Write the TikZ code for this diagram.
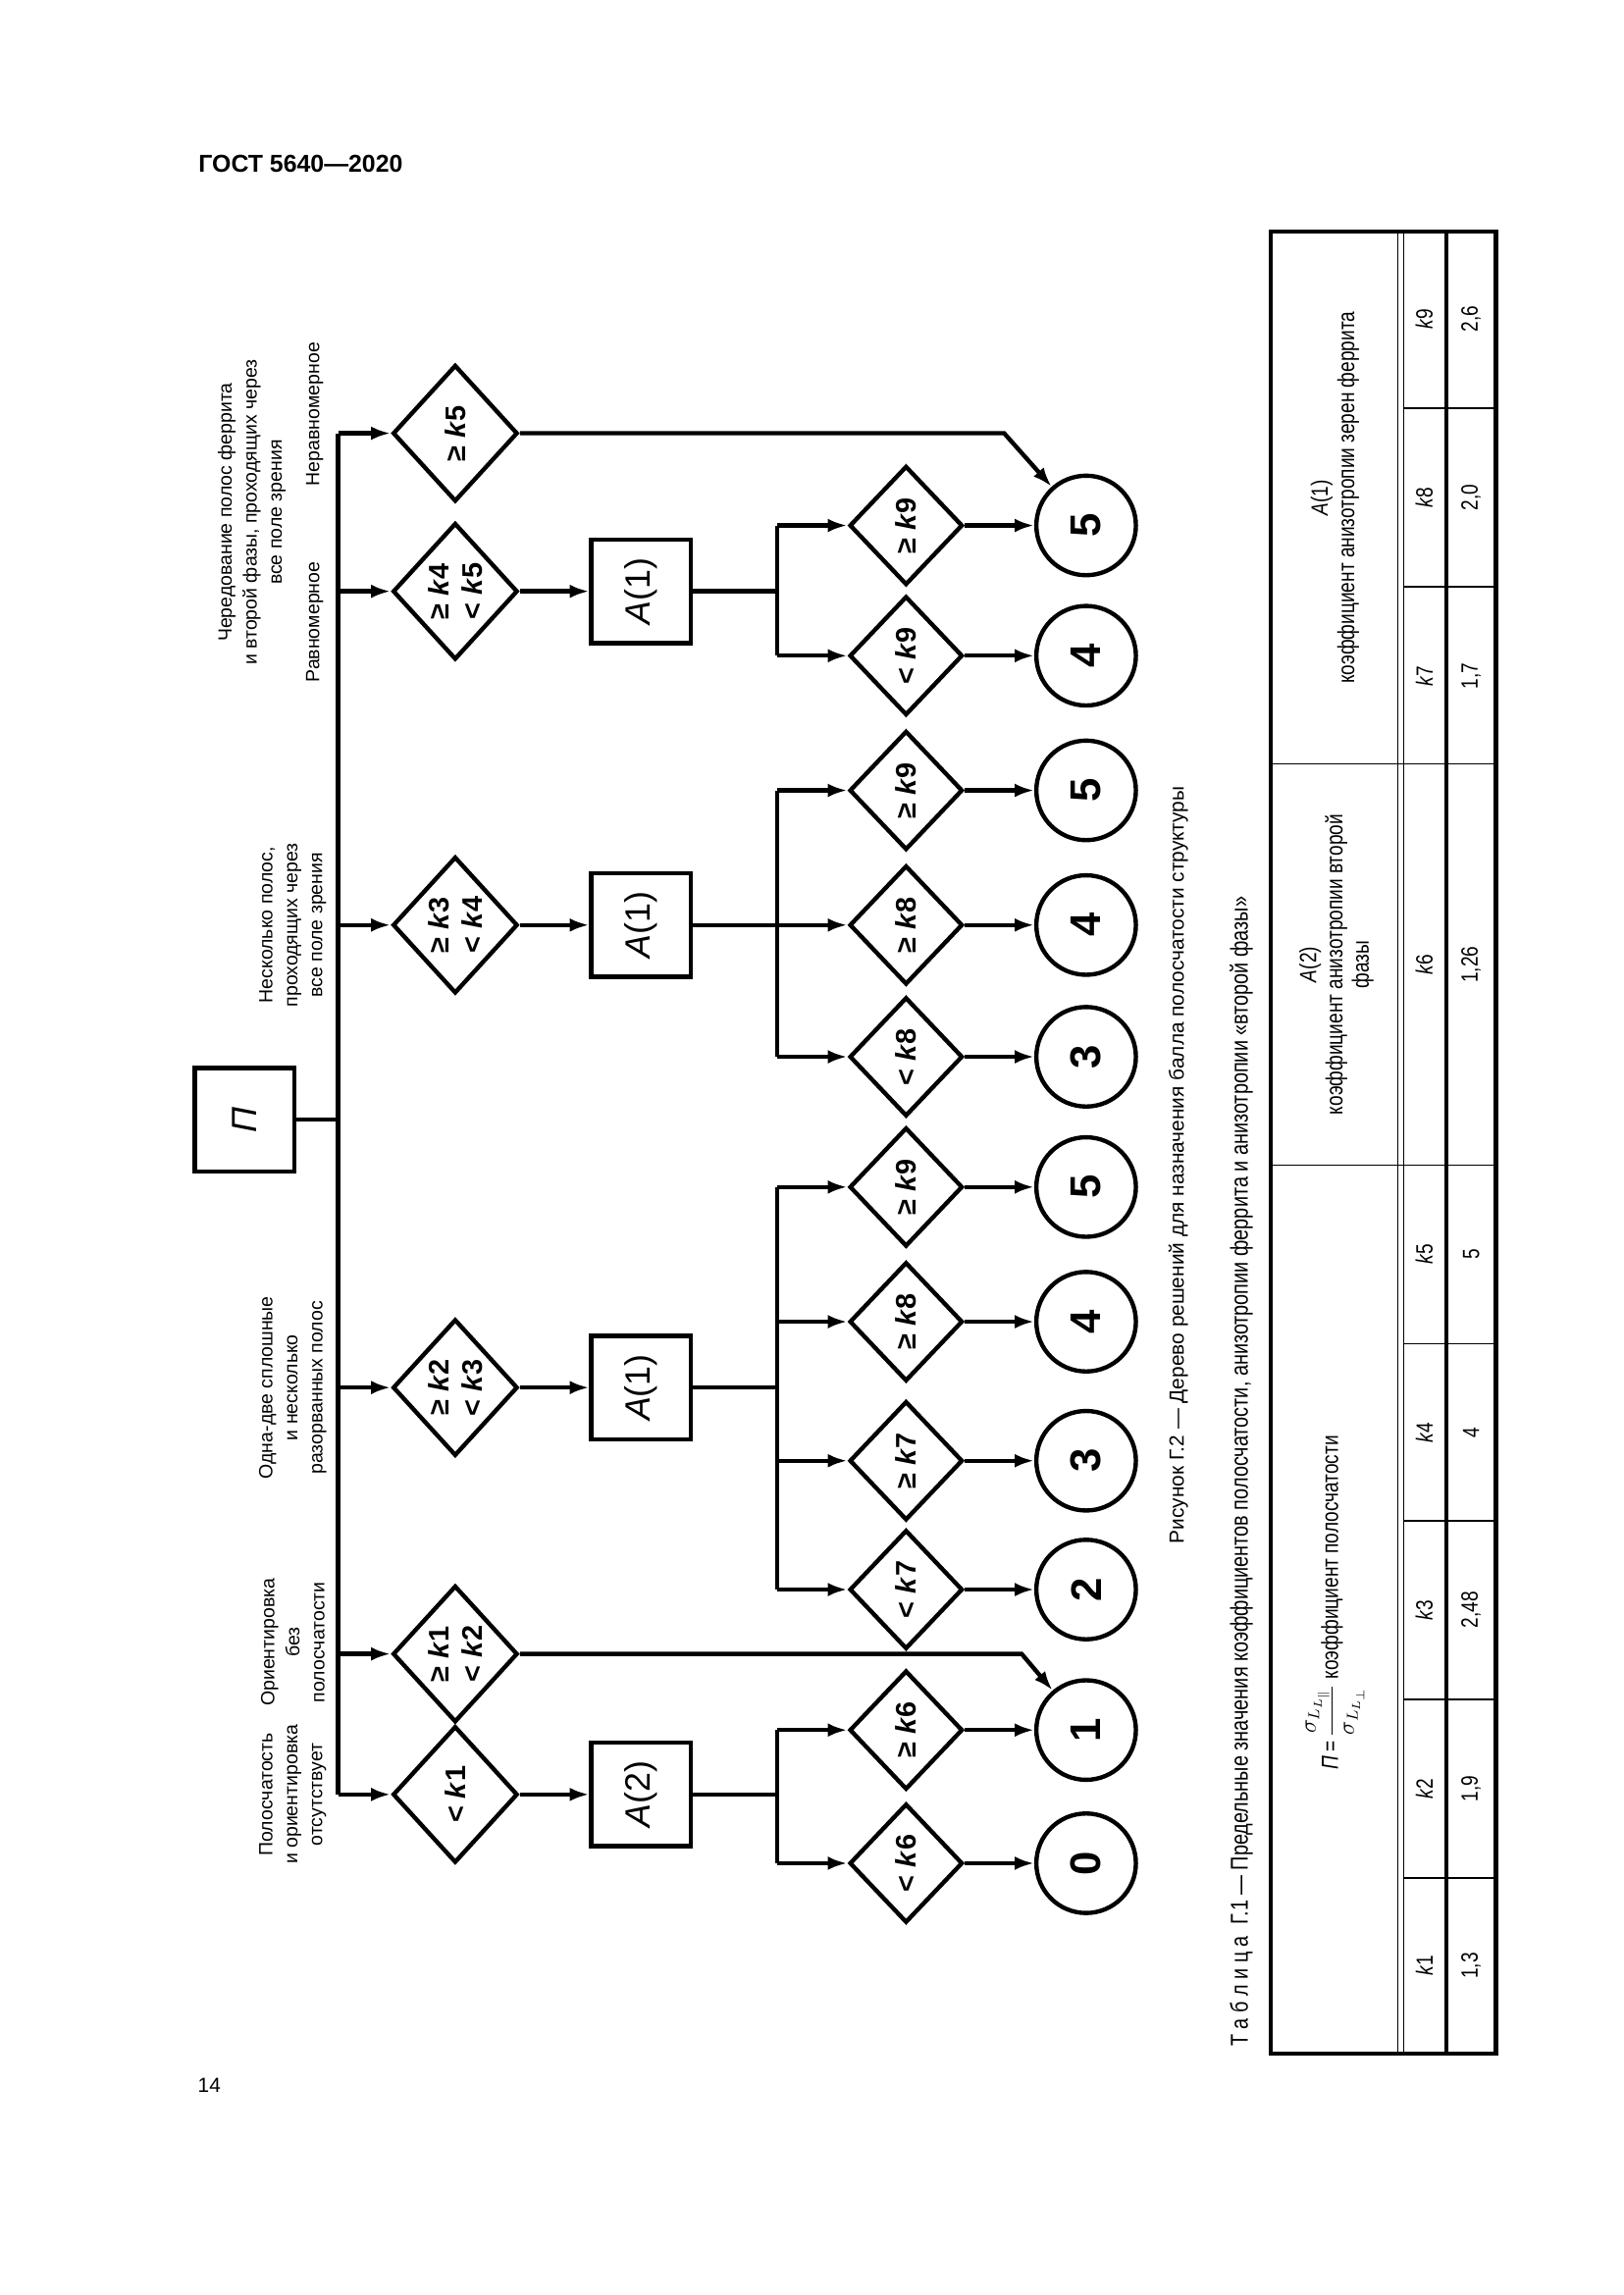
\documentclass[tikz,border=0pt]{standalone}
\usepackage{fontspec}
\setmainfont{Liberation Sans}
\newfontfamily\tabf{Liberation Sans}[FakeStretch=0.8]
\usetikzlibrary{shapes.geometric,arrows.meta}
\begin{document}
\begin{tikzpicture}[x=0.75pt,y=-0.75pt,
  ln/.style={line width=2.2pt},
  ar/.style={ln,-{Latex[length=10pt,width=7pt]}},
  dia/.style={diamond,draw,line width=2.2pt,rotate=90,minimum width=70pt,minimum height=64pt,inner sep=0pt,font=\fontsize{14.5}{17}\selectfont\bfseries,align=center},
  sdia/.style={diamond,draw,line width=2.2pt,rotate=90,minimum width=61pt,minimum height=58pt,inner sep=0pt,font=\fontsize{14.5}{17}\selectfont\bfseries,align=center},
  box/.style={rectangle,draw,line width=2.2pt,rotate=90,minimum width=53pt,minimum height=51pt,inner sep=0pt,font=\fontsize{18}{19}\selectfont},
  circ/.style={circle,draw,line width=2.2pt,rotate=90,minimum size=51pt,inner sep=0pt,font=\fontsize{22}{23}\selectfont\bfseries},
  lab/.style={rotate=90,align=center,font=\fontsize{9.8}{12.8}\selectfont},
  tb/.style={rotate=90,font=\tabf\fontsize{12}{13.5}\selectfont,align=center},
  thin/.style={line width=0.8pt},
  thick/.style={line width=2.2pt}]
\useasboundingbox (0,0) rectangle (1109,1568);
\fill[white] (0,0) rectangle (1109,1568);
\node[anchor=west,font=\fontsize{12.5}{14}\selectfont\bfseries] (hdr) at (131,112) {ГОСТ 5640—2020};
\node[font=\fontsize{10.5}{12}\selectfont] (pg) at (143,1425) {14};

% root
\node[box] (P) at (167,765) {\itshape П};
\coordinate (bt) at (231,296);
\coordinate (bb) at (231,1226);
\coordinate (bp) at (231,765);
\draw[ln] (bt) -- (bb);
\draw[ln] (P.south) -- (bp);

% first level diamonds
\node[dia] (d1) at (311,1226) {< \textit{k}1};
\node[dia] (d2) at (311,1130) {≥ \textit{k}1\\< \textit{k}2};
\node[dia] (d3) at (311,948) {≥ \textit{k}2\\< \textit{k}3};
\node[dia] (d4) at (311,632) {≥ \textit{k}3\\< \textit{k}4};
\node[dia] (d5) at (311,404) {≥ \textit{k}4\\< \textit{k}5};
\node[dia] (d6) at (311,296) {≥ \textit{k}5};
\foreach \n/\y in {d1/1226,d2/1130,d3/948,d4/632,d5/404,d6/296}{
  \coordinate (b\n) at (231,\y);
  \draw[ar] (b\n) -- (\n.north);
}

% A boxes
\node[box] (a1) at (438,1226) {\textit{A}(2)};
\node[box] (a2) at (438,948) {\textit{A}(1)};
\node[box] (a3) at (438,632) {\textit{A}(1)};
\node[box] (a4) at (438,404) {\textit{A}(1)};
\draw[ar] (d1.south) -- (a1.north);
\draw[ar] (d3.south) -- (a2.north);
\draw[ar] (d4.south) -- (a3.north);
\draw[ar] (d5.south) -- (a4.north);

% split buses
\coordinate (s1) at (531,1226); \coordinate (s1t) at (531,1182); \coordinate (s1b) at (531,1273);
\coordinate (s2) at (531,948); \coordinate (s2t) at (531,811); \coordinate (s2b) at (531,1086);
\coordinate (s3) at (531,632); \coordinate (s3t) at (531,540); \coordinate (s3b) at (531,722);
\coordinate (s4) at (531,404); \coordinate (s4t) at (531,359); \coordinate (s4b) at (531,448);
\draw[ln] (a1.south) -- (s1); \draw[ln] (s1t) -- (s1b);
\draw[ln] (a2.south) -- (s2); \draw[ln] (s2t) -- (s2b);
\draw[ln] (a3.south) -- (s3); \draw[ln] (s3t) -- (s3b);
\draw[ln] (a4.south) -- (s4); \draw[ln] (s4t) -- (s4b);

% second level diamonds and circles
\foreach \n/\y/\t/\c/\d in {
  e1/1273/{< \textit{k}6}/c0/0, e2/1182/{≥ \textit{k}6}/c1/1,
  e3/1086/{< \textit{k}7}/c2/2, e4/998/{≥ \textit{k}7}/c3/3, e5/903/{≥ \textit{k}8}/c4/4, e6/811/{≥ \textit{k}9}/c5/5,
  e7/722/{< \textit{k}8}/c6/3, e8/632/{≥ \textit{k}8}/c7/4, e9/540/{≥ \textit{k}9}/c8/5,
  e10/448/{< \textit{k}9}/c9/4, e11/359/{≥ \textit{k}9}/c10/5}{
  \node[sdia] (\n) at (619,\y) {\t};
  \coordinate (x\n) at (531,\y);
  \draw[ar] (x\n) -- (\n.north);
  \node[circ] (\c) at (742,\y) {\d};
  \draw[ar] (\n.south) -- (\c.north);
}

% direct paths
\coordinate (k2) at (698,1130);
\coordinate (k5) at (686,296);
\draw[ar] (d2.south) -- (k2) -- (c1);
\draw[ar] (d6.south) -- (k5) -- (c10);

% labels
\node[lab] (l1) at (200,1226) {Полосчатость\\и ориентировка\\отсутствует};
\node[lab] (l2) at (200,1122) {Ориентировка\\без\\полосчатости};
\node[lab] (l3) at (200,948) {Одна-две сплошные\\и несколько\\разорванных полос};
\node[lab] (l4) at (200,632) {Несколько полос,\\проходящих через\\все поле зрения};
\node[lab] (l5) at (172,350) {Чередование полос феррита\\и второй фазы, проходящих через\\все поле зрения};
\node[lab] (l6) at (215,425) {Равномерное};
\node[lab] (l7) at (215,283) {Неравномерное};

% captions
\node[rotate=90,font=\fontsize{10.5}{12}\selectfont] (cap1) at (805,796) {Рисунок Г.2 — Дерево решений для назначения балла полосчатости структуры};
\node[rotate=90,anchor=west,font=\tabf\fontsize{12.5}{14}\selectfont] (cap2) at (848,1403) {Т\ а\ б\ л\ и\ ц\ а\ \ Г.1 — Предельные значения коэффициентов полосчатости, анизотропии феррита и анизотропии «второй фазы»};

% table
\draw[thick] (868,158) rectangle (1022,1403);
\draw[thin] (955,158) -- (955,1403);
\draw[thin] (959,158) -- (959,1403);
\draw[thick] (988,158) -- (988,1403);
\draw[thin] (868,796) -- (1022,796);
\draw[thin] (868,522) -- (1022,522);
\foreach \y in {1283,1161,1039,918,401,279} \draw[thin] (959,\y) -- (1022,\y);
\node[tb] (hp) at (912,1095) {\itshape П\upshape\,=\,$\displaystyle\frac{\sigma_{L_{L_\parallel}}}{\sigma_{L_{L_\perp}}}$\ коэффициент полосчатости};
\node[tb] (ha2) at (913,659) {\textit{A}(2)\\коэффициент анизотропии второй\\фазы};
\node[tb] (ha1) at (912,340) {\textit{A}(1)\\коэффициент анизотропии зерен феррита};
\foreach \y/\k/\v in {1343/1/{1,3},1222/2/{1,9},1100/3/{2,48},979/4/4,857/5/5,659/6/{1,26},462/7/{1,7},340/8/{2,0},218/9/{2,6}}{
  \node[tb] at (973,\y) {\textit{k}\k};
  \node[tb] at (1005,\y) {\v};
}
\end{tikzpicture}
\end{document}
